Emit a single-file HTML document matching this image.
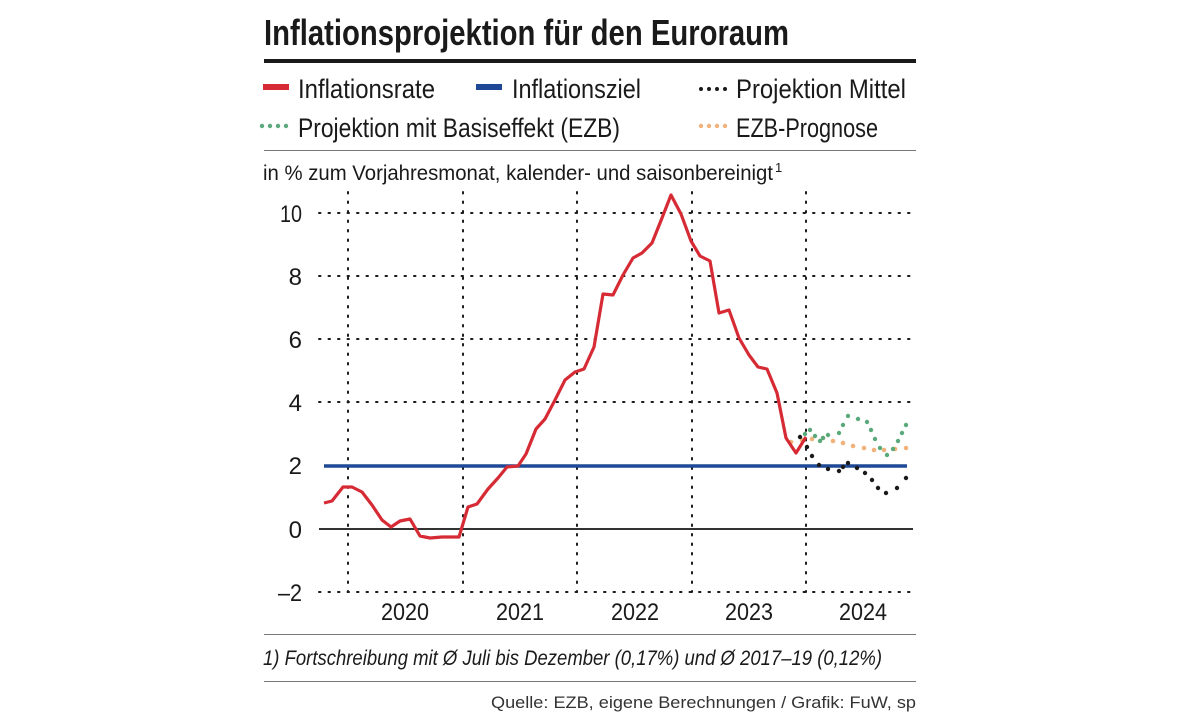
<!DOCTYPE html>
<html><head><meta charset="utf-8"><style>
html,body{margin:0;padding:0;background:#fff;}
svg{display:block;}
text{font-family:"Liberation Sans Narrow","Liberation Sans",sans-serif;fill:#1a1a1a;}
</style></head><body>
<svg width="1179" height="713" viewBox="0 0 1179 713" xmlns="http://www.w3.org/2000/svg">
<text x="264" y="45" font-size="36" font-weight="bold" textLength="525" lengthAdjust="spacingAndGlyphs">Inflationsprojektion für den Euroraum</text>
<rect x="264" y="59" width="652" height="4" fill="#1a1a1a"/>
<rect x="263" y="84" width="26" height="6" fill="#d62b35"/>
<text x="298" y="98" font-size="27" textLength="137" lengthAdjust="spacingAndGlyphs">Inflationsrate</text>
<rect x="476" y="84" width="26" height="6" fill="#1f4896"/>
<text x="512" y="98" font-size="27" textLength="129" lengthAdjust="spacingAndGlyphs">Inflationsziel</text>
<g fill="#1a1a1a"><circle cx="701" cy="89" r="2"/><circle cx="709" cy="89" r="2"/><circle cx="717" cy="89" r="2"/><circle cx="725" cy="89" r="2"/></g>
<text x="736" y="98" font-size="27" textLength="170" lengthAdjust="spacingAndGlyphs">Projektion Mittel</text>
<g fill="#5aa97a"><circle cx="262" cy="126" r="2.2"/><circle cx="270" cy="126" r="2.2"/><circle cx="278" cy="126" r="2.2"/><circle cx="286" cy="126" r="2.2"/></g>
<text x="298" y="137" font-size="27" textLength="322" lengthAdjust="spacingAndGlyphs">Projektion mit Basiseffekt (EZB)</text>
<g fill="#f0b27a"><circle cx="701" cy="126" r="2.2"/><circle cx="709" cy="126" r="2.2"/><circle cx="717" cy="126" r="2.2"/><circle cx="725" cy="126" r="2.2"/></g>
<text x="736" y="137" font-size="27" textLength="142" lengthAdjust="spacingAndGlyphs">EZB-Prognose</text>
<rect x="264" y="150" width="652" height="1" fill="#777"/>
<text x="263" y="180" font-size="21" textLength="510" lengthAdjust="spacingAndGlyphs">in % zum Vorjahresmonat, kalender- und saisonbereinigt</text>
<text x="775" y="172" font-size="13">1</text>

<g stroke="#1a1a1a" stroke-width="2" stroke-dasharray="1.5 8" stroke-linecap="round">
<line x1="319" y1="213" x2="913" y2="213"/>
<line x1="319" y1="276" x2="913" y2="276"/>
<line x1="319" y1="339" x2="913" y2="339"/>
<line x1="319" y1="402" x2="913" y2="402"/>
<line x1="319" y1="592" x2="913" y2="592"/>
<line x1="348" y1="192" x2="348" y2="592"/>
<line x1="463" y1="192" x2="463" y2="592"/>
<line x1="577" y1="192" x2="577" y2="592"/>
<line x1="692" y1="192" x2="692" y2="592"/>
<line x1="806" y1="192" x2="806" y2="592"/>
</g>
<line x1="319" y1="529" x2="913" y2="529" stroke="#333" stroke-width="2"/>
<line x1="324" y1="466" x2="907" y2="466" stroke="#1f4896" stroke-width="3.5"/>

<g font-size="24" text-anchor="end">
<text x="302" y="222" textLength="22" lengthAdjust="spacingAndGlyphs">10</text><text x="302" y="285">8</text><text x="302" y="348">6</text><text x="302" y="411">4</text><text x="302" y="474">2</text><text x="302" y="538">0</text><text x="302" y="601" textLength="24" lengthAdjust="spacingAndGlyphs">–2</text>
</g>
<g font-size="24">
<text x="381" y="620" textLength="48" lengthAdjust="spacingAndGlyphs">2020</text><text x="496" y="620" textLength="48" lengthAdjust="spacingAndGlyphs">2021</text><text x="611" y="620" textLength="48" lengthAdjust="spacingAndGlyphs">2022</text><text x="725" y="620" textLength="48" lengthAdjust="spacingAndGlyphs">2023</text><text x="839" y="620" textLength="48" lengthAdjust="spacingAndGlyphs">2024</text>
</g>

<g fill="#f0b27a">
<circle cx="791" cy="442" r="2.3"/><circle cx="802" cy="440" r="2.3"/><circle cx="812" cy="439" r="2.3"/><circle cx="823" cy="438" r="2.3"/><circle cx="833" cy="441" r="2.3"/><circle cx="843" cy="443" r="2.3"/><circle cx="853" cy="446" r="2.3"/><circle cx="864" cy="448" r="2.3"/><circle cx="874" cy="450" r="2.3"/><circle cx="884" cy="450" r="2.3"/><circle cx="895" cy="449" r="2.3"/><circle cx="906" cy="448" r="2.3"/>
</g>
<g fill="#5aa97a">
<circle cx="805" cy="434" r="2.2"/><circle cx="810" cy="430" r="2.2"/><circle cx="815" cy="436" r="2.2"/><circle cx="820" cy="441" r="2.2"/><circle cx="823" cy="438" r="2.2"/><circle cx="828" cy="435" r="2.2"/><circle cx="839" cy="433" r="2.2"/><circle cx="843" cy="425" r="2.2"/><circle cx="848" cy="416" r="2.2"/><circle cx="858" cy="419" r="2.2"/><circle cx="867" cy="422" r="2.2"/><circle cx="871" cy="430" r="2.2"/><circle cx="875" cy="439" r="2.2"/><circle cx="880" cy="448" r="2.2"/><circle cx="887" cy="455" r="2.2"/><circle cx="893" cy="449" r="2.2"/><circle cx="898" cy="441" r="2.2"/><circle cx="902" cy="433" r="2.2"/><circle cx="906" cy="425" r="2.2"/>
</g>
<g fill="#1a1a1a">
<circle cx="800" cy="437" r="2.2"/><circle cx="807" cy="447" r="2.2"/><circle cx="812" cy="456" r="2.2"/><circle cx="819" cy="465" r="2.2"/><circle cx="828" cy="469" r="2.2"/><circle cx="839" cy="471" r="2.2"/><circle cx="843" cy="467" r="2.2"/><circle cx="848" cy="463" r="2.2"/><circle cx="857" cy="468" r="2.2"/><circle cx="865" cy="473" r="2.2"/><circle cx="872" cy="480" r="2.2"/><circle cx="878" cy="488" r="2.2"/><circle cx="886" cy="493" r="2.2"/><circle cx="897" cy="488" r="2.2"/><circle cx="906" cy="478" r="2.2"/>
</g>
<polyline fill="none" stroke="#d62b35" stroke-width="3.2" stroke-linejoin="round" points="324,503 332,501 343,487 352,487 362,492 372,505 382,520 391,527 400,521 410,519 420,536 430,538 442,537 450,537 459,537 468,507 477,504 488,489 498,478 507,467 518,466 526,454 536,429 545,419 555,400 565,380 575,372 584,369 594,347 603,294 613,295 623,275 633,258 642,253 652,243 662,218 671,195 681,214 691,241 700,256 710,261 719,313 729,310 739,338 749,355 758,367 767,369 777,393 786,438 796,453 806,437"/>

<rect x="264" y="634" width="652" height="1" fill="#777"/>
<text x="263" y="665" font-size="21" font-style="italic" textLength="619" lengthAdjust="spacingAndGlyphs">1) Fortschreibung mit Ø Juli bis Dezember (0,17%) und Ø 2017–19 (0,12%)</text>
<rect x="264" y="681" width="652" height="1" fill="#777"/>
<text x="916" y="708" font-size="17" text-anchor="end" style="font-family:'Liberation Sans',sans-serif;fill:#333" textLength="425" lengthAdjust="spacingAndGlyphs">Quelle: EZB, eigene Berechnungen / Grafik: FuW, sp</text>
</svg>
</body></html>
